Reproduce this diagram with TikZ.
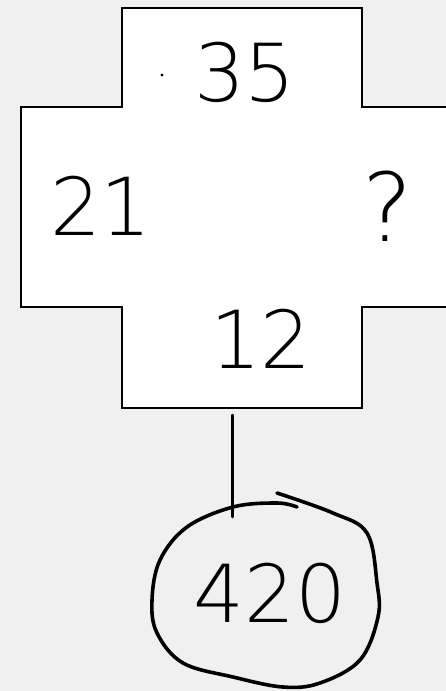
\documentclass[tikz,border=0pt]{standalone}
\usepackage{fontspec}
\newfontfamily\handfont{DejaVu Sans ExtraLight}
\definecolor{bggray}{HTML}{F0F0F0}
\begin{document}
\begin{tikzpicture}[x=1pt,y=-1pt,
  numtext/.style={inner sep=0pt, font=\handfont\fontsize{80}{80}\selectfont},
  crossline/.style={draw=black, line width=1.5pt, fill=white},
  wire/.style={draw=black, line width=2.5pt, line cap=round},
  blob/.style={draw=black, line width=3.6pt, line cap=round, line join=round}]
\useasboundingbox (0,0) rectangle (446,691);
\fill[bggray] (0,0) rectangle (446,691);
% cross shape
\path[crossline] (122,8) -- (362,8) -- (362,107) -- (470,107) -- (470,307)
  -- (362,307) -- (362,408) -- (122,408) -- (122,307) -- (21,307)
  -- (21,107) -- (122,107) -- cycle;
\coordinate (crossbottom) at (232.5,415);
\coordinate (blobtop) at (232.5,517);
% texts
\node[numtext] (top) at (245,72) {35};
\fill (162,75) circle (1.6pt);
\node[numtext] (left) at (101,206) {21};
\node[numtext, font=\handfont\fontsize{95}{95}\selectfont] (right) at (388,206) {?};
\node[numtext] (bottom) at (261,339) {12};
% connector
\draw[wire] (crossbottom) -- (blobtop);
% hand-drawn circle
\draw[blob] plot[smooth, tension=0.6] coordinates {
  (277,493) (333,513) (367,533) (377,583) (378,617) (360,660) (320,683)
  (283,687) (233,677) (183,663) (157,633) (152,600) (160,560) (187,527)
  (233,507) (277,503) (297,507)};
\node[numtext] (result) at (270,593) {420};
\end{tikzpicture}
\end{document}
